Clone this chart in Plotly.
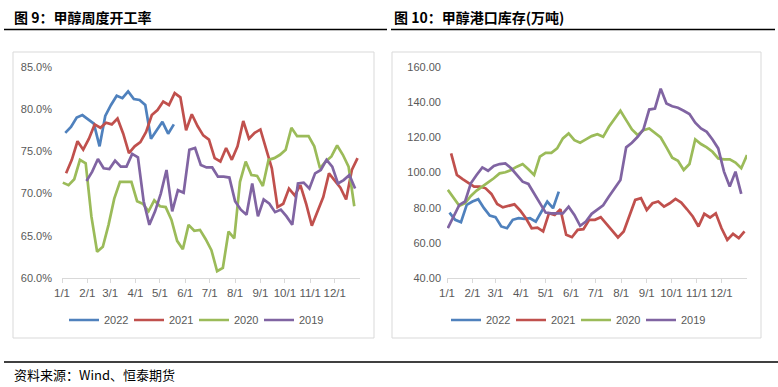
import pandas as pd
import plotly.graph_objects as go

# ---------------- data ----------------
years = ["2022", "2021", "2020", "2019"]
colors = ["#4F81BD", "#C0504D", "#9BBB59", "#8064A2"]

month_ticks = ["1/1", "2/1", "3/1", "4/1", "5/1", "6/1", "7/1", "8/1", "9/1", "10/1", "11/1", "12/1"]

# first weekly observation of each series (mapped onto a common calendar year)
op_start = {"2022": "2019-01-05", "2021": "2019-01-06", "2020": "2019-01-02", "2019": "2019-01-31"}
inv_start = {"2022": "2019-01-04", "2021": "2019-01-06", "2020": "2019-01-02", "2019": "2019-01-02"}

# 甲醇周度开工率 (%)
op_2022 = [77.2, 77.9, 79.0, 79.3, 78.8, 78.3, 75.6, 79.2, 80.5, 81.6, 81.3, 82.1, 81.2, 81.1,
           80.5, 76.5, 77.5, 78.5, 77.1, 78.2]
op_2021 = [72.4, 74.0, 76.2, 75.2, 76.5, 78.2, 77.8, 78.4, 78.2, 78.9, 77.1, 74.8, 75.6, 76.1,
           77.3, 79.3, 79.9, 80.9, 80.5, 81.9, 81.4, 77.5, 79.4, 78.0, 76.9, 76.4, 74.2, 73.8,
           75.4, 74.0, 75.6, 78.6, 76.5, 77.2, 77.6, 75.4, 73.0, 68.4, 68.8, 70.6, 69.8, 71.0,
           68.8, 66.2, 67.8, 69.6, 72.4, 71.6, 70.7, 69.3, 72.8, 74.2]
op_2020 = [71.3, 71.0, 71.7, 74.0, 73.6, 67.3, 63.1, 63.7, 66.3, 69.4, 71.4, 71.4, 71.4, 69.1,
           68.8, 67.9, 69.2, 68.5, 68.4, 66.9, 64.4, 63.4, 66.3, 65.6, 65.7, 64.6, 63.3, 60.8,
           61.2, 65.5, 64.7, 71.4, 73.8, 72.2, 72.1, 70.9, 74.0, 74.2, 74.6, 75.2, 77.8, 76.8,
           76.8, 76.8, 75.6, 73.0, 73.8, 74.4, 75.7, 74.6, 73.2, 68.5]
op_2019 = [71.5, 72.6, 74.1, 73.0, 72.9, 73.9, 73.2, 73.2, 74.7, 74.3, 69.1, 66.3, 67.9, 70.0,
           72.8, 67.9, 70.4, 70.1, 75.2, 75.4, 73.4, 73.1, 73.1, 72.0, 72.0, 71.9, 69.1, 68.1,
           67.5, 71.2, 67.3, 69.3, 68.8, 67.8, 68.1, 67.3, 66.3, 71.2, 71.3, 70.6, 72.4, 72.8,
           74.0, 73.2, 71.2, 71.6, 72.2, 70.6]

# 甲醇港口库存 (万吨)
inv_2022 = [77.2, 73.1, 71.7, 81.6, 83.5, 84.8, 79.7, 75.5, 74.6, 69.3, 68.3, 73.1, 74.0, 73.6,
            74.0, 72.1, 77.8, 83.5, 79.7, 89.1]
inv_2021 = [110.9, 98.6, 96.3, 94.2, 92.0, 92.0, 91.0, 87.8, 82.1, 80.2, 81.0, 81.9, 78.4, 74.0,
            68.3, 68.7, 66.5, 76.8, 75.9, 79.1, 64.6, 63.2, 67.4, 67.8, 73.1, 73.1, 74.6, 70.8,
            67.4, 63.1, 66.5, 75.0, 84.4, 85.4, 78.7, 82.5, 83.5, 80.6, 82.5, 85.0, 82.9, 79.1,
            75.0, 69.3, 76.5, 74.4, 76.8, 68.3, 61.7, 65.1, 62.7, 66.5]
inv_2020 = [90.1, 85.4, 81.0, 82.5, 86.7, 89.7, 92.3, 94.4, 96.7, 99.5, 100.1, 101.4, 103.3, 104.8,
            101.8, 98.6, 109.0, 111.2, 111.2, 113.7, 119.4, 122.2, 118.4, 116.9, 118.8, 120.7,
            121.8, 120.3, 126.0, 130.7, 135.1, 129.8, 124.5, 121.3, 124.1, 125.0, 122.2, 119.9,
            114.3, 108.4, 106.7, 101.4, 104.8, 118.8, 116.2, 114.3, 111.8, 108.0, 107.5, 107.5,
            105.6, 102.4, 109.9]
inv_2019 = [68.3, 75.0, 81.6, 83.5, 93.9, 98.6, 102.9, 101.0, 103.7, 104.8, 105.2, 102.4, 98.6,
            94.8, 93.5, 88.2, 82.9, 77.2, 76.8, 76.8, 76.8, 80.6, 75.9, 69.7, 72.1, 76.5, 79.1,
            81.4, 86.3, 91.0, 95.7, 114.3, 116.9, 120.3, 124.5, 135.8, 136.4, 147.7, 139.2, 137.7,
            136.8, 135.1, 133.2, 128.3, 125.0, 123.1, 118.8, 113.7, 100.5, 92.0, 100.5, 87.8]

op_values = {"2022": op_2022, "2021": op_2021, "2020": op_2020, "2019": op_2019}
inv_values = {"2022": inv_2022, "2021": inv_2021, "2020": inv_2020, "2019": inv_2019}

# ---------------- figure ----------------
W, H = 778, 387
FONT = "Noto Sans CJK SC"
AXFONT = "Liberation Sans, Arial"
GREY_TXT = "#595959"
FRAME = "#D9D9D9"


def px_x(v):
    return v / W


def px_y(v):
    return 1 - v / H


fig = go.Figure()

for yr, col in zip(years, colors):
    vals = op_values[yr]
    dates = pd.date_range(op_start[yr], periods=len(vals), freq="7D")
    fig.add_trace(go.Scatter(x=dates, y=vals, mode="lines", name=yr,
                             line=dict(color=col, width=2.7), xaxis="x", yaxis="y",
                             showlegend=True, legend="legend"))
for yr, col in zip(years, colors):
    vals = inv_values[yr]
    dates = pd.date_range(inv_start[yr], periods=len(vals), freq="7D")
    fig.add_trace(go.Scatter(x=dates, y=vals, mode="lines", name=yr,
                             line=dict(color=col, width=2.7), xaxis="x2", yaxis="y2",
                             showlegend=True, legend="legend2"))

tickvals = [f"2019-{m:02d}-01" for m in range(1, 13)]
xcommon = dict(type="date", range=["2019-01-01", "2020-01-01"], tickvals=tickvals,
               ticktext=month_ticks, tickangle=0, showgrid=False, zeroline=False, showline=True,
               linecolor=FRAME, linewidth=1, ticks="outside", ticklen=4, tickcolor=FRAME,
               tickfont=dict(family=AXFONT, size=11.5, color=GREY_TXT), fixedrange=True)
ycommon = dict(showgrid=False, zeroline=False, showline=False, ticks="",
               tickfont=dict(family=AXFONT, size=11, color=GREY_TXT), fixedrange=True)

ydom = [px_y(278), px_y(67)]

legcommon = dict(orientation="h", xanchor="left", yanchor="middle",
                 font=dict(family=AXFONT, size=11, color=GREY_TXT), itemwidth=30,
                 bgcolor="rgba(0,0,0,0)", tracegroupgap=0, entrywidth=20, entrywidthmode="pixels")

fig.update_layout(
    width=W, height=H, margin=dict(l=0, r=0, t=0, b=0, autoexpand=False),
    paper_bgcolor="white", plot_bgcolor="white",
    xaxis=dict(domain=[px_x(62), px_x(360)], anchor="y", **xcommon),
    yaxis=dict(domain=ydom, anchor="x", range=[60, 85], tickvals=[60, 65, 70, 75, 80, 85],
               ticktext=["60.0%", "65.0%", "70.0%", "75.0%", "80.0%", "85.0%"],
               ticklabelstandoff=9, **ycommon),
    xaxis2=dict(domain=[px_x(447), px_x(747)], anchor="y2", **xcommon),
    yaxis2=dict(domain=ydom, anchor="x2", range=[40, 160], tickvals=[40, 60, 80, 100, 120, 140, 160],
                ticktext=["40.00", "60.00", "80.00", "100.00", "120.00", "140.00", "160.00"],
                ticklabelstandoff=5, **ycommon),
    legend=dict(x=px_x(64), y=px_y(320), **legcommon),
    legend2=dict(x=px_x(446), y=px_y(320), **legcommon),
    showlegend=True,
)

shapes = [
    # chart frames
    dict(type="rect", xref="paper", yref="paper", x0=px_x(13), x1=px_x(374), y0=px_y(338), y1=px_y(52),
         line=dict(color=FRAME, width=1)),
    dict(type="rect", xref="paper", yref="paper", x0=px_x(392), x1=px_x(761), y0=px_y(338), y1=px_y(52),
         line=dict(color=FRAME, width=1)),
    # title rules
    dict(type="line", xref="paper", yref="paper", x0=px_x(4), x1=px_x(387), y0=px_y(29.5), y1=px_y(29.5),
         line=dict(color="black", width=1.3)),
    dict(type="line", xref="paper", yref="paper", x0=px_x(391), x1=px_x(775), y0=px_y(29.5), y1=px_y(29.5),
         line=dict(color="black", width=1.3)),
    # source rule
    dict(type="line", xref="paper", yref="paper", x0=px_x(4), x1=px_x(778), y0=px_y(362), y1=px_y(362),
         line=dict(color="black", width=1.3)),
]
fig.update_layout(shapes=shapes)

annotations = [
    dict(text="<b>图 9：甲醇周度开工率</b>", x=px_x(12), y=px_y(17), xref="paper", yref="paper",
         xanchor="left", yanchor="middle", showarrow=False, font=dict(family=FONT, size=14, color="black")),
    dict(text="<b>图 10：甲醇港口库存(万吨)</b>", x=px_x(392), y=px_y(17), xref="paper", yref="paper",
         xanchor="left", yanchor="middle", showarrow=False, font=dict(family=FONT, size=14, color="black")),
    dict(text="资料来源：Wind、恒泰期货", x=px_x(12), y=px_y(374), xref="paper", yref="paper",
         xanchor="left", yanchor="middle", showarrow=False, font=dict(family=FONT, size=13, color="black")),
]
fig.update_layout(annotations=annotations)

fig.write_html("out.html", include_plotlyjs=True, full_html=True,
               config={"displayModeBar": False},
               post_script="document.body.style.margin='0';document.body.style.overflow='hidden';")
